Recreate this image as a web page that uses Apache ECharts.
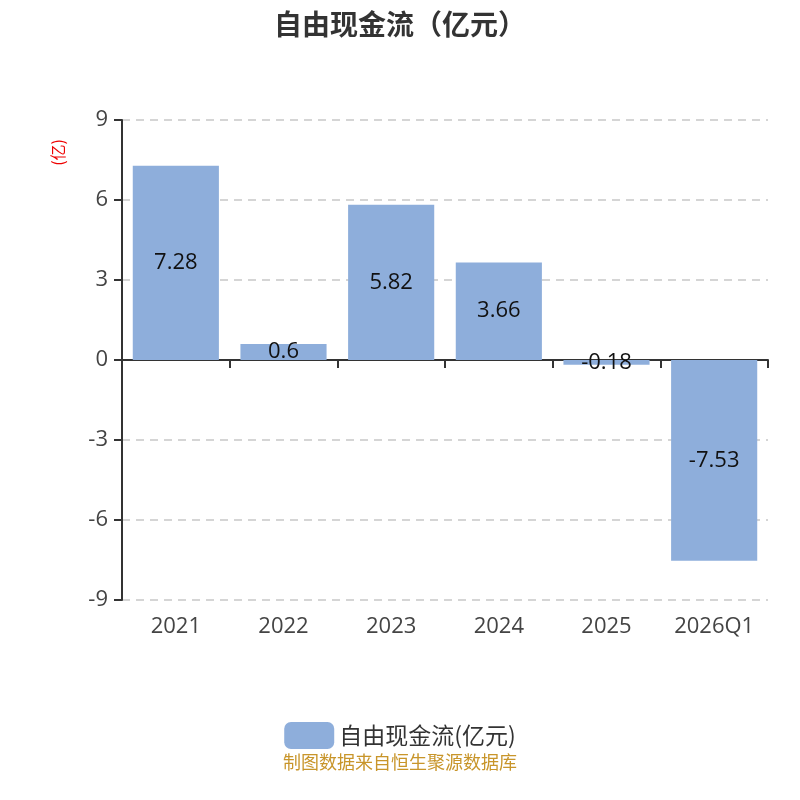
<!DOCTYPE html>
<html><head><meta charset="utf-8">
<script src="https://cdn.jsdelivr.net/npm/echarts@6/dist/echarts.min.js"></script>
<style>html,body{margin:0;padding:0;background:#fff}#c{width:800px;height:800px}</style>
</head><body><div id="c"></div>
<script>
const categories = ['2021','2022','2023','2024','2025','2026Q1'];
const values = [7.28, 0.6, 5.82, 3.66, -0.18, -7.53];
const yTicks = [-9,-6,-3,0,3,6,9];
const seriesName = '自由现金流(亿元)';
const FONT = '"Open Sans","Noto Sans CJK SC",sans-serif';
const CJK = '"Noto Sans CJK SC","Noto Sans",sans-serif';
const chart = echarts.init(document.getElementById('c'));
chart.setOption({
  backgroundColor:'#fff',
  textStyle:{fontFamily:FONT},
  title:{text:'自由现金流（亿元）',left:'center',top:5,textStyle:{fontSize:28,fontWeight:'bold',color:'#333',fontFamily:CJK}},
  grid:{left:122,right:32,top:120,bottom:200,containLabel:false},
  legend:{data:[seriesName],bottom:46,left:'center',icon:'roundRect',itemWidth:50,itemHeight:27,itemGap:10,textStyle:{fontSize:23,color:'#333',fontFamily:CJK}},
  graphic:[
    {type:'text',left:50,top:139,rotation:Math.PI/2,style:{text:'(亿)',fill:'#e00',fontSize:16,fontFamily:CJK}},
    {type:'text',left:'center',top:753,style:{text:'制图数据来自恒生聚源数据库',fill:'#c8952a',fontSize:18,fontFamily:CJK}}
  ],
  xAxis:{type:'category',data:categories,axisLine:{onZero:true,lineStyle:{color:'#333',width:2}},axisTick:{show:true,length:8,lineStyle:{color:'#333',width:2}},
    axisLabel:{fontSize:22,color:'#444',margin:16,fontFamily:FONT},position:'bottom'},
  yAxis:{type:'value',min:yTicks[0],max:yTicks[yTicks.length-1],interval:3,
    axisLine:{show:true,lineStyle:{color:'#333',width:2}},axisTick:{show:true,length:8,lineStyle:{color:'#333',width:2}},
    axisLabel:{fontSize:22,color:'#444',margin:14,fontFamily:FONT},
    splitLine:{lineStyle:{type:[8,6],color:'#c8c8c8',width:1.5}}},
  series:[{name:seriesName,type:'bar',data:values,barWidth:'80%',itemStyle:{color:'#8eaedb'},
    label:{show:true,position:'inside',fontSize:22,color:'#111',fontFamily:FONT}}]
});
</script></body></html>
